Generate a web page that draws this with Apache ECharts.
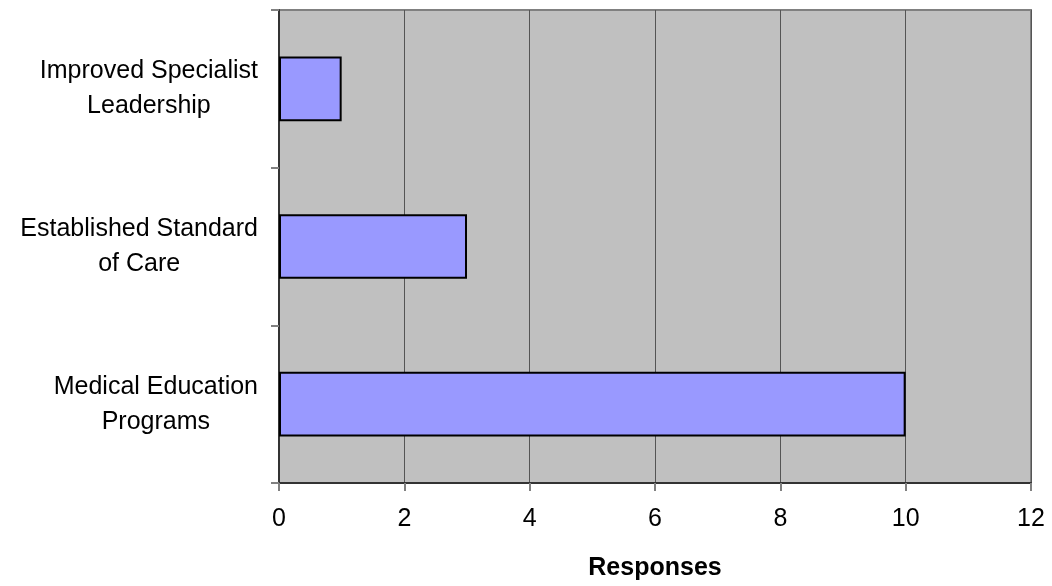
<!DOCTYPE html>
<html>
<head>
<meta charset="utf-8">
<script src="https://cdn.jsdelivr.net/npm/echarts@6/dist/echarts.min.js"></script>
<style>
html,body{margin:0;padding:0;background:#fff;}
#chart{width:1052px;height:586px;}
</style>
</head>
<body>
<div id="chart"></div>
<script>
const categories = ['Improved Specialist\nLeadership', 'Established Standard\nof Care', 'Medical Education\nPrograms'];
const responses = [1, 3, 10];
const xTicks = [0, 2, 4, 6, 8, 10, 12];
const axisName = 'Responses';

const chart = echarts.init(document.getElementById('chart'), null, {renderer: 'canvas'});
const FONT = '"Liberation Sans", Arial, sans-serif';
chart.setOption({
  animation: false,
  backgroundColor: '#ffffff',
  grid: {
    left: 279, right: 21, top: 10, bottom: 98,
    show: true, backgroundColor: '#c0c0c0', borderColor: '#808080', borderWidth: 2
  },
  xAxis: {
    type: 'value',
    min: xTicks[0], max: xTicks[xTicks.length - 1], interval: 2,
    name: axisName,
    nameLocation: 'middle',
    nameGap: 73,
    nameTextStyle: {fontFamily: FONT, fontSize: 25, fontWeight: 'bold', color: '#000'},
    axisLine: {show: true, onZero: false, lineStyle: {color: '#333333', width: 2}},
    axisTick: {show: true, length: 8, lineStyle: {color: '#808080', width: 2}},
    axisLabel: {fontFamily: FONT, fontSize: 25, color: '#000', margin: 24},
    splitLine: {show: true, lineStyle: {color: '#555555', width: 1}}
  },
  yAxis: {
    type: 'category',
    data: categories,
    inverse: true,
    axisLine: {show: true, lineStyle: {color: '#333333', width: 2}},
    axisTick: {show: true, length: 8, lineStyle: {color: '#808080', width: 2}},
    axisLabel: {
      margin: 21,
      align: 'right',
      formatter: function (v) {
        return v.split('\n').map(function (s) { return '{c|' + s + '}'; }).join('\n');
      },
      rich: {
        c: {align: 'center', fontFamily: FONT, fontSize: 25, lineHeight: 35, color: '#000'}
      }
    },
    splitLine: {show: false}
  },
  series: [{
    type: 'bar',
    data: responses,
    barWidth: '41%',
    itemStyle: {color: '#9999ff', borderColor: '#000000', borderWidth: 2}
  }]
});
</script>
</body>
</html>
